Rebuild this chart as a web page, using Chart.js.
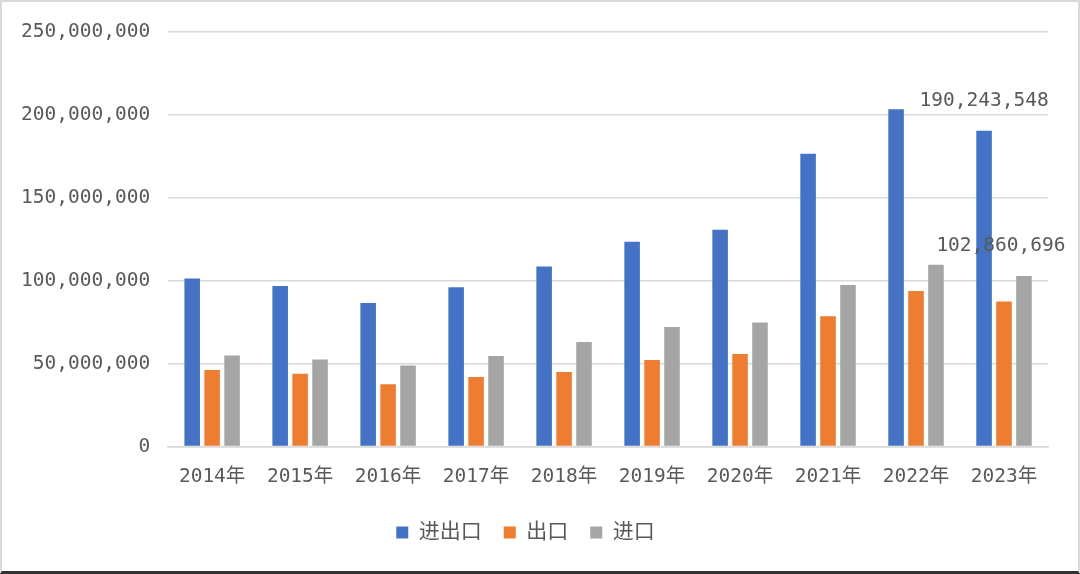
<!DOCTYPE html>
<html lang="zh">
<head>
<meta charset="UTF-8">
<title>进出口</title>
<script src="https://cdn.jsdelivr.net/npm/chart.js"></script>
<style>
  html, body { margin: 0; padding: 0; background: #fff; }
  .wrap { position: relative; width: 1080px; height: 574px; box-sizing: border-box; border: 2px solid #d9d9d9; border-bottom: 3px solid #333; }
  canvas { position: absolute; left: 0; top: 0; }
</style>
</head>
<body>
<div class="wrap">
  <canvas id="chart" width="1076" height="569"></canvas>
</div>
<script>
  const years = ['2014年', '2015年', '2016年', '2017年', '2018年', '2019年', '2020年', '2021年', '2022年', '2023年'];
  const total = [101300000, 96700000, 86600000, 96000000, 108500000, 123500000, 130600000, 176500000, 203300000, 190243548];
  const exports = [46200000, 43900000, 37500000, 42000000, 45000000, 52200000, 55800000, 78500000, 93800000, 87400000];
  const imports = [54900000, 52500000, 48800000, 54600000, 63000000, 72000000, 74800000, 97400000, 109500000, 102860696];
  const yTicks = [0, 50000000, 100000000, 150000000, 200000000, 250000000];

  const fontFam = '"DejaVu Sans Mono", "Noto Sans CJK SC", monospace';
  const textColor = '#595959';

  // labels only on the 2023 total and import bars
  const lastLabels = {
    id: 'lastLabels',
    afterDatasetsDraw(chart) {
      const ctx = chart.ctx;
      const last = years.length - 1;
      ctx.save();
      ctx.font = '19.5px ' + fontFam;
      ctx.fillStyle = textColor;
      ctx.textAlign = 'center';
      ctx.textBaseline = 'middle';
      [[0, 0], [2, -23]].forEach(([di, dx]) => {
        const bar = chart.getDatasetMeta(di).data[last];
        const v = chart.data.datasets[di].data[last];
        ctx.fillText(v.toLocaleString('en-US'), bar.x + dx, bar.y - 30);
      });
      ctx.restore();
    }
  };

  const barOpts = { categoryPercentage: 0.68, barPercentage: 0.78 };

  new Chart(document.getElementById('chart'), {
    type: 'bar',
    data: {
      labels: years,
      datasets: [
        { label: '进出口', data: total, backgroundColor: '#4472C4', ...barOpts },
        { label: '出口', data: exports, backgroundColor: '#ED7D31', ...barOpts },
        { label: '进口', data: imports, backgroundColor: '#A5A5A5', ...barOpts }
      ]
    },
    options: {
      responsive: false,
      animation: false,
      layout: { padding: { left: 1, right: 30, top: 27, bottom: 18 } },
      scales: {
        x: {
          grid: { display: false },
          border: { display: true, color: '#d9d9d9', width: 1.5 },
          ticks: { color: textColor, font: { family: fontFam, size: 19.5 }, padding: 11, maxRotation: 0 }
        },
        y: {
          min: 0,
          max: 250000000,
          afterBuildTicks: axis => { axis.ticks = yTicks.map(v => ({ value: v })); },
          grid: { color: '#d9d9d9', lineWidth: 1.5, drawTicks: false },
          border: { display: false },
          ticks: {
            color: textColor,
            font: { family: fontFam, size: 19.5 },
            padding: 18,
            callback: v => v.toLocaleString('en-US')
          }
        }
      },
      plugins: {
        legend: {
          position: 'bottom',
          labels: {
            color: textColor,
            font: { family: fontFam, size: 21 },
            boxWidth: 12,
            boxHeight: 12,
            padding: 22
          }
        },
        tooltip: { enabled: false }
      }
    },
    plugins: [lastLabels]
  });
</script>
</body>
</html>
